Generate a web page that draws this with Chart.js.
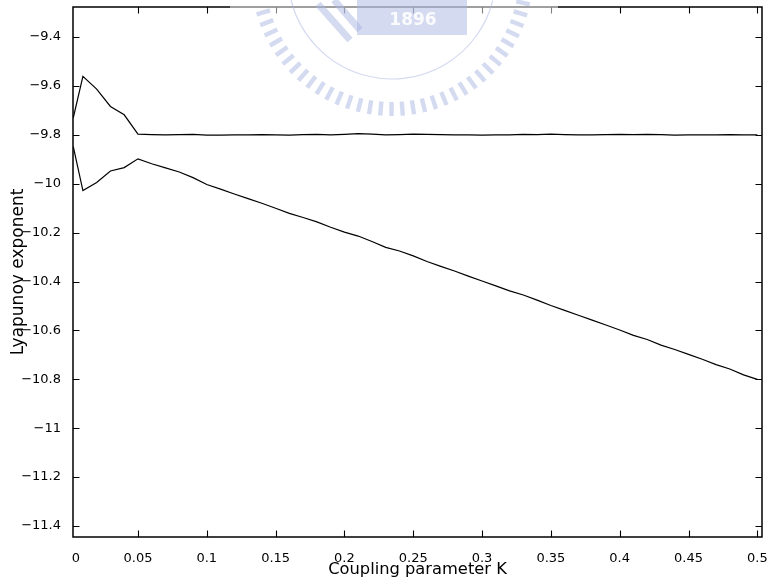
<!DOCTYPE html>
<html>
<head>
<meta charset="utf-8">
<script src="https://cdn.jsdelivr.net/npm/chart.js@4.4.1/dist/chart.umd.min.js"></script>
<style>
  html, body { margin: 0; padding: 0; background: #fff; }
  #wrap { width: 772px; height: 580px; }
</style>
</head>
<body>
<div id="wrap"><canvas id="lyap"></canvas></div>
<script>
// coupling parameter K and the two Lyapunov exponents
const couplingK = [0.003, 0.01, 0.02, 0.03, 0.04, 0.05, 0.06, 0.07, 0.08, 0.09,
  0.10, 0.11, 0.12, 0.13, 0.14, 0.15, 0.16, 0.17, 0.18, 0.19,
  0.20, 0.21, 0.22, 0.23, 0.24, 0.25, 0.26, 0.27, 0.28, 0.29,
  0.30, 0.31, 0.32, 0.33, 0.34, 0.35, 0.36, 0.37, 0.38, 0.39,
  0.40, 0.41, 0.42, 0.43, 0.44, 0.45, 0.46, 0.47, 0.48, 0.49, 0.50];

const upperExp = [-9.730, -9.561, -9.613, -9.684, -9.718, -9.797, -9.799, -9.800, -9.799, -9.798,
  -9.801, -9.801, -9.800, -9.800, -9.799, -9.800, -9.801, -9.799, -9.798, -9.800,
  -9.798, -9.795, -9.797, -9.800, -9.799, -9.797, -9.798, -9.799, -9.800, -9.800,
  -9.801, -9.800, -9.800, -9.798, -9.799, -9.797, -9.799, -9.800, -9.800, -9.799,
  -9.798, -9.799, -9.798, -9.799, -9.801, -9.800, -9.800, -9.800, -9.799, -9.800, -9.800];

const lowerExp = [-9.848, -10.028, -9.995, -9.948, -9.934, -9.898, -9.918, -9.935, -9.952, -9.975,
  -10.003, -10.022, -10.042, -10.061, -10.080, -10.100, -10.121, -10.138, -10.156, -10.178,
  -10.198, -10.214, -10.236, -10.260, -10.275, -10.295, -10.318, -10.338, -10.357, -10.378,
  -10.398, -10.418, -10.438, -10.455, -10.476, -10.498, -10.518, -10.538, -10.558, -10.578,
  -10.598, -10.620, -10.637, -10.660, -10.678, -10.698, -10.718, -10.740, -10.758, -10.782, -10.800];

const xTicks = [0.05, 0.1, 0.15, 0.2, 0.25, 0.3, 0.35, 0.4, 0.45, 0.5];
const yTicks = [-11.4, -11.2, -11, -10.8, -10.6, -10.4, -10.2, -10, -9.8, -9.6, -9.4];

const FONT = 'DejaVu Sans';
const minus = v => (v < 0 ? '\u2212' + Math.abs(v) : String(v));

// matlab-like box with inward ticks on all four sides, plus the lone "0" label
const boxAxes = {
  id: 'boxAxes',
  afterDraw(chart) {
    const { ctx, chartArea: a, scales } = chart;
    const len = 6.5;
    ctx.save();
    ctx.strokeStyle = '#000';
    ctx.lineWidth = 1.1;
    ctx.beginPath();
    for (const v of xTicks) {
      const px = Math.round(scales.x.getPixelForValue(v)) + 0.5;
      ctx.moveTo(px, a.bottom); ctx.lineTo(px, a.bottom - len);
      ctx.moveTo(px, a.top); ctx.lineTo(px, a.top + len);
    }
    for (const v of yTicks) {
      const py = Math.round(scales.y.getPixelForValue(v)) + 0.5;
      ctx.moveTo(a.left, py); ctx.lineTo(a.left + len, py);
      ctx.moveTo(a.right, py); ctx.lineTo(a.right - len, py);
    }
    ctx.stroke();
    ctx.lineWidth = 1.5;
    ctx.strokeRect(a.left, a.top, a.right - a.left, a.bottom - a.top);

    ctx.fillStyle = '#000';
    ctx.font = '13px "' + FONT + '"';
    ctx.textAlign = 'center';
    ctx.textBaseline = 'middle';
    ctx.fillText('0', a.left + 3, a.bottom + 22);
    ctx.restore();
  }
};

// faint university seal printed over the top of the figure
const seal = {
  id: 'seal',
  afterDraw(chart) {
    const ctx = chart.ctx;
    const cx = 392, cy = -25;
    ctx.save();
    ctx.fillStyle = 'rgba(255,255,255,0.5)';
    ctx.fillRect(230, 0, 328, 112);
    ctx.fillStyle = 'rgba(170,182,225,0.5)';
    ctx.strokeStyle = 'rgba(170,182,225,0.5)';
    for (let deg = 12; deg <= 168; deg += 4.6) {
      const r = deg * Math.PI / 180;
      ctx.save();
      ctx.translate(cx + Math.cos(r) * 134, cy + Math.sin(r) * 134);
      ctx.rotate(r);
      ctx.fillRect(-7, -2.2, 14, 4.4);
      ctx.restore();
    }
    ctx.lineWidth = 1.2;
    ctx.beginPath();
    ctx.arc(cx, cy, 104, 0.25, Math.PI - 0.2);
    ctx.stroke();
    ctx.fillRect(357, 0, 110, 35);
    ctx.lineWidth = 7;
    ctx.beginPath();
    ctx.moveTo(318, 4); ctx.lineTo(350, 40);
    ctx.moveTo(334, 0); ctx.lineTo(360, 30);
    ctx.stroke();
    ctx.fillStyle = 'rgba(255,255,255,0.9)';
    ctx.font = 'bold 17px "' + FONT + '"';
    ctx.textAlign = 'center';
    ctx.textBaseline = 'middle';
    ctx.fillText('1896', 413, 21);
    ctx.restore();
  }
};

const toPoints = ys => couplingK.map((k, i) => ({ x: k, y: ys[i] }));

new Chart(document.getElementById('lyap'), {
  type: 'line',
  data: {
    datasets: [
      { data: toPoints(upperExp), borderColor: '#000', borderWidth: 1.2, pointRadius: 0, tension: 0 },
      { data: toPoints(lowerExp), borderColor: '#000', borderWidth: 1.2, pointRadius: 0, tension: 0 }
    ]
  },
  options: {
    responsive: true,
    maintainAspectRatio: false,
    animation: false,
    layout: { padding: { top: 7, right: 10, left: 0, bottom: 0 } },
    plugins: { legend: { display: false }, tooltip: { enabled: false } },
    scales: {
      x: {
        type: 'linear',
        min: 0.0028,
        max: 0.5034,
        grid: { display: false },
        border: { display: false },
        afterBuildTicks: s => { s.ticks = xTicks.map(v => ({ value: v })); },
        afterFit: s => { s.height = 43; s.paddingLeft = 0; s.paddingRight = 0; },
        ticks: {
          autoSkip: false, maxRotation: 0, padding: 6, color: '#000',
          font: { family: FONT, size: 13 },
          callback: v => String(v)
        },
        title: {
          display: true, text: 'Coupling parameter K', color: '#000',
          font: { family: FONT, size: 16.3 }, padding: { top: 1, bottom: 0 }
        }
      },
      y: {
        min: -11.445,
        max: -9.277,
        grid: { display: false },
        border: { display: false },
        afterBuildTicks: s => { s.ticks = yTicks.map(v => ({ value: v })); },
        afterFit: s => { s.width = 73; s.paddingTop = 0; s.paddingBottom = 0; },
        ticks: {
          autoSkip: false, padding: 4, color: '#000',
          font: { family: FONT, size: 13 },
          callback: v => minus(v)
        },
        title: {
          display: true, text: 'Lyapunov exponent', color: '#000',
          font: { family: FONT, size: 17 }, padding: { top: 8, bottom: 0 }
        }
      }
    }
  },
  plugins: [boxAxes, seal]
});
</script>
</body>
</html>
